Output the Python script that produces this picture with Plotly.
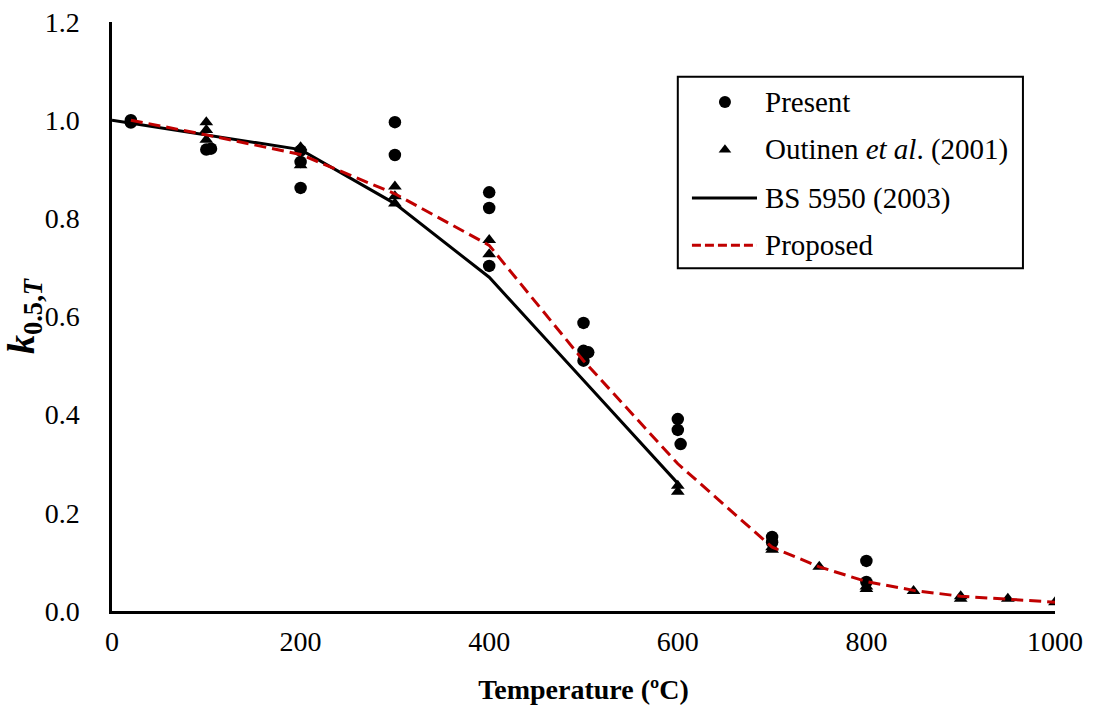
import plotly.graph_objects as go

# Measured data: normalized 0.5% proof strength vs temperature
present_T = [20, 20, 100, 105, 200, 200, 200, 300, 300, 400, 400, 400,
             500, 500, 505, 500, 600, 600, 603, 700, 700, 800, 800]
present_k = [1.0, 0.995, 0.94, 0.942, 0.938, 0.915, 0.862, 0.996, 0.929, 0.853, 0.821, 0.703,
             0.587, 0.53, 0.527, 0.51, 0.391, 0.369, 0.34, 0.151, 0.14, 0.102, 0.059]

outinen_T = [20, 100, 100, 100, 200, 200, 300, 300, 300, 400, 400, 600, 600,
             700, 700, 750, 800, 800, 850, 900, 900, 950, 1000]
outinen_k = [1.0, 0.996, 0.98, 0.96, 0.945, 0.908, 0.865, 0.845, 0.83, 0.756, 0.727, 0.255, 0.243,
             0.13, 0.125, 0.09, 0.05, 0.045, 0.041, 0.03, 0.025, 0.025, 0.018]

bs_T = [0, 100, 200, 300, 400, 500, 600]
bs_k = [1.0, 0.97, 0.94, 0.83, 0.68, 0.47, 0.26]

prop_T = [20, 100, 200, 300, 400, 500, 600, 700, 750, 800, 850, 900, 950, 1000]
prop_k = [1.0, 0.97, 0.93, 0.85, 0.745, 0.51, 0.30, 0.13, 0.09, 0.06, 0.042, 0.03, 0.024, 0.018]

x_ticks = [0, 200, 400, 600, 800, 1000]
y_ticks = [0.0, 0.2, 0.4, 0.6, 0.8, 1.0, 1.2]

legend_labels = ["Present", "Outinen <i>et al</i>. (2001)", "BS 5950 (2003)", "Proposed"]

FONT = "Liberation Serif"
RED = "#c00000"

fig = go.Figure()
fig.add_trace(go.Scatter(x=present_T, y=present_k, mode="markers", name=legend_labels[0],
                         marker=dict(symbol="circle", size=12.5, color="black")))
fig.add_trace(go.Scatter(x=outinen_T, y=outinen_k, mode="markers", name=legend_labels[1],
                         marker=dict(symbol="triangle-up", size=12, color="black")))
fig.add_trace(go.Scatter(x=bs_T, y=bs_k, mode="lines", name=legend_labels[2],
                         line=dict(color="black", width=3)))
fig.add_trace(go.Scatter(x=prop_T, y=prop_k, mode="lines", name=legend_labels[3],
                         line=dict(color=RED, width=3, dash="12px,6px")))

# Legend box drawn by hand (long line keys), in the plot area's 0..1 frame
box_x0, box_x1, box_y0, box_y1 = 0.600, 0.966, 0.582, 0.907
row_y = [0.864, 0.783, 0.701, 0.621]
key_x, key_l0, key_l1, text_x = 0.650, 0.615, 0.684, 0.690

fig.add_shape(type="rect", xref="paper", yref="paper",
              x0=box_x0, x1=box_x1, y0=box_y0, y1=box_y1,
              line=dict(color="black", width=2), fillcolor="white", layer="below")
fig.add_trace(go.Scatter(x=[key_x], y=[row_y[0]], xaxis="x2", yaxis="y2", mode="markers",
                         marker=dict(symbol="circle", size=12, color="black"),
                         hoverinfo="skip"))
fig.add_trace(go.Scatter(x=[key_x], y=[row_y[1]], xaxis="x2", yaxis="y2", mode="markers",
                         marker=dict(symbol="triangle-up", size=11, color="black"),
                         hoverinfo="skip"))
fig.add_trace(go.Scatter(x=[key_l0, key_l1], y=[row_y[2]] * 2, xaxis="x2", yaxis="y2",
                         mode="lines", line=dict(color="black", width=3), hoverinfo="skip"))
fig.add_trace(go.Scatter(x=[key_l0, key_l1], y=[row_y[3]] * 2, xaxis="x2", yaxis="y2",
                         mode="lines", line=dict(color=RED, width=3, dash="9px,4px"),
                         hoverinfo="skip"))
for lab, yy in zip(legend_labels, row_y):
    fig.add_annotation(x=text_x, y=yy, xref="paper", yref="paper", text=lab,
                       showarrow=False, xanchor="left", yanchor="middle",
                       font=dict(family=FONT, size=29, color="black"))

fig.update_layout(
    width=1094, height=707,
    margin=dict(l=112, r=39, t=22, b=96),
    paper_bgcolor="white", plot_bgcolor="white",
    font=dict(family=FONT, size=28, color="black"),
    showlegend=False,
    xaxis=dict(range=[0, 1000], tickvals=x_ticks, ticktext=[str(v) for v in x_ticks],
               showgrid=False, zeroline=False, showline=True, linecolor="black",
               linewidth=2.5, ticks="", ticklabelstandoff=4, automargin=False,
               title=dict(text="<b>Temperature (ºC)</b>", font=dict(size=28), standoff=24)),
    yaxis=dict(range=[0, 1.2], tickvals=y_ticks, ticktext=[f"{v:.1f}" for v in y_ticks],
               showgrid=False, zeroline=False, showline=True, linecolor="black",
               linewidth=2.5, ticks="", ticklabelstandoff=24, automargin=False,
               title=dict(text="<b><i>k</i></b><sub><b>0.5,<i>T</i></b></sub>",
                          font=dict(size=38), standoff=14)),
    xaxis2=dict(range=[0, 1], overlaying="x", visible=False),
    yaxis2=dict(range=[0, 1], overlaying="y", visible=False),
)

fig.write_html("out.html")
